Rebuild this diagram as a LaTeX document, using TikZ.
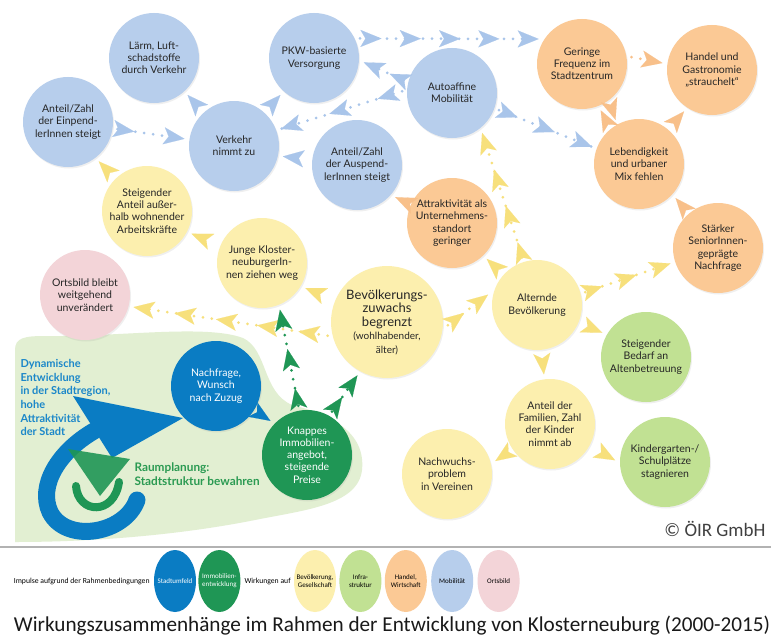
\documentclass[tikz,border=0pt]{standalone}
\usepackage{fontspec}
\setmainfont{Lato}
\newfontfamily\capfont{Carlito}
\usetikzlibrary{arrows.meta, positioning, decorations.markings, shapes.geometric, shadows}
\definecolor{mob}{HTML}{B7CEEC}
\definecolor{mobtip}{HTML}{A9C5EA}
\definecolor{bev}{HTML}{FCEFAE}
\definecolor{bevtip}{HTML}{F7E07C}
\definecolor{han}{HTML}{FBC995}
\definecolor{hantip}{HTML}{F8C08A}
\definecolor{inf}{HTML}{C1E193}
\definecolor{ort}{HTML}{F3D4D8}
\definecolor{stadt}{HTML}{0A7CC3}
\definecolor{immo}{HTML}{1F9655}
\definecolor{blob}{HTML}{E2EFD2}
\definecolor{stadttext}{HTML}{1B87C9}
\definecolor{immotext}{HTML}{2B9A52}
\tikzset{%
	wedge/.tip={Stealth[length=21pt, width=17pt, inset=5pt, line width=0.1pt]},
	topic/.style={circle, minimum size=90pt, inner sep=0pt, outer sep=5pt, align=center,%
		font=\fontsize{10.5}{12.2}\selectfont, text=black!85,%
		drop shadow={opacity=0.12, shadow xshift=1pt, shadow yshift=-1.5pt}},
	tipto/.style={postaction={decorate}, decoration={markings, mark=at position 1 with {\arrow{wedge}}}},
	dotline/.style={draw, line width=3pt, line cap=round, dash pattern=on 0pt off 9pt},
	dotchain/.style 2 args={dotline, postaction={decorate}, decoration={markings,%
		mark=between positions #1 and 0.99 step #2 with {\arrow{wedge}},%
		mark=at position 1 with {\arrow{wedge}}}},
	legend/.style={ellipse, minimum width=42pt, minimum height=62pt, inner xsep=-5pt, inner ysep=0pt,%
		align=center, font=\capfont\fontsize{7}{8}\selectfont},
	legtext/.style={font=\capfont\fontsize{7.7}{10}\selectfont, inner sep=1pt},
	impulse/.style={font=\bfseries\fontsize{11}{13.6}\selectfont, align=left}
}
\begin{document}
\begin{tikzpicture}[x=1pt, y=-1pt, node distance=4pt]
	\coordinate (nw) at (0,0);
	\coordinate (se) at (771,642);
	\fill[white, use as bounding box] (nw) rectangle (se);

	% Impulse
	\fill[blob] (15,350) .. controls (15,338) and (24,336) .. (45,336) .. controls (120,337) and (205,324) .. (243,338) .. controls (268,350) and (262,392) .. (292,405) .. controls (330,414) and (366,432) .. (362,470) .. controls (358,505) and (305,510) .. (255,520) .. controls (185,534) and (100,542) .. (15,542) -- cycle;
	\draw[stadt, line width=17pt, line cap=round] (137,500) .. controls (125,534) and (66,544) .. (50,512) .. controls (38,486) and (58,452) .. (94,431);
	\fill[stadt] (73,396) -- (183,418) -- (112,458) -- cycle;
	\draw[immo, line width=8pt, line cap=round] (76,486) .. controls (78,514) and (114,516) .. (119,482);
	\fill[immo, opacity=0.9] (68,449) -- (130,459) -- (100,496) -- cycle;
	\node[impulse, text=stadttext, anchor=north west] (dyn) at (17,356) {Dynamische\\Entwicklung\\in der Stadtregion,\\hohe\\Attraktivität\\der Stadt};
	\node[impulse, text=immotext, anchor=west, font=\bfseries\fontsize{11.8}{14}\selectfont] (raum) at (131,474) {Raumplanung:\\Stadtstruktur bewahren};

	% Wirkungen
	\node[topic, fill=mob] (laerm) at (154,58) {Lärm, Luft-\\schadstoffe\\durch Verkehr};
	\node[topic, fill=mob] (pkw) at (314,58) {PKW-basierte\\Versorgung};
	\node[topic, fill=mob] (einpendler) at (68,122) {Anteil/Zahl\\der Einpend-\\lerInnen steigt};
	\node[topic, fill=mob] (verkehr) at (234,146) {Verkehr\\nimmt zu};
	\node[topic, fill=mob] (autoaffin) at (452,93) {Autoaffine\\Mobilität};
	\node[topic, fill=mob] (auspendler) at (357,165) {Anteil/Zahl\\der Auspend-\\lerInnen steigt};
	\node[topic, fill=han] (frequenz) at (582,64) {Geringe\\Frequenz im\\Stadtzentrum};
	\node[topic, fill=han] (handel) at (712,70) {Handel und\\Gastronomie\\„strauchelt“};
	\node[topic, fill=han] (lebendig) at (639,164) {Lebendigkeit\\und urbaner\\Mix fehlen};
	\node[topic, fill=han] (senioren) at (718,248) {Stärker\\SeniorInnen-\\geprägte\\Nachfrage};
	\node[topic, fill=han] (standort) at (452,223) {Attraktivität als\\Unternehmens-\\standort\\geringer};
	\node[topic, fill=bev] (altern) at (537,305) {Alternde\\Bevölkerung};
	\node[topic, fill=inf] (altenbetr) at (646,357) {Steigender\\Bedarf an\\Altenbetreuung};
	\node[topic, fill=bev] (familien) at (550,424) {Anteil der\\Familien, Zahl\\der Kinder\\nimmt ab};
	\node[topic, fill=bev] (nachwuchs) at (447,474) {Nachwuchs-\\problem\\in Vereinen};
	\node[topic, fill=inf] (kiga) at (665,462) {Kindergarten-/\\Schulplätze\\stagnieren};
	\node[topic, fill=bev] (arbeitskr) at (147,211) {Steigender\\Anteil außer-\\halb wohnender\\Arbeitskräfte};
	\node[topic, fill=bev] (junge) at (262,263) {Junge Kloster-\\neuburgerIn-\\nen ziehen weg};
	\node[topic, fill=ort] (ortsbild) at (85,295) {Ortsbild bleibt\\weitgehend\\unverändert};
	\node[topic, fill=bev, minimum size=112pt, font=\fontsize{13}{13.5}\selectfont] (zuwachs) at (387,322) {Bevölkerungs-\\zuwachs\\begrenzt\\{\fontsize{10}{13.5}\selectfont(wohlhabender,}\\{\fontsize{10}{13.5}\selectfont älter)}};
	\node[topic, fill=stadt, text=white] (nachfrage) at (216,386) {Nachfrage,\\Wunsch\\nach Zuzug};
	\node[topic, fill=immo, text=white] (knapp) at (307,455) {Knappes\\Immobilien-\\angebot,\\steigende\\Preise};

	\path[tipto, color=mobtip] (verkehr) to (laerm);
	\path[tipto, color=mobtip] (verkehr) to (pkw);
	\path[tipto, color=mobtip] (auspendler) to (verkehr.-12);
	\draw[dotchain={0.25}{0.75}, color=mobtip] (einpendler) to (verkehr);
	\draw[dotchain={0.2}{0.4}, color=mobtip] (autoaffin.178) to (verkehr.20);
	\draw[dotchain={0.35}{0.65}, color=mobtip] (autoaffin.165) to (pkw.-5);
	\draw[dotchain={0.12}{0.22}, color=mobtip] (pkw.23) to (frequenz.150);
	\draw[dotchain={0.2}{0.4}, color=mobtip] (autoaffin.-20) to (lebendig.160);

	\draw[dotline, tipto, color=hantip] (frequenz.8) to (handel.172);
	\path[tipto, color=hantip] (frequenz.-55) to (lebendig.118);
	\path[tipto, color=hantip] (lebendig.128) to (frequenz.-68);
	\path[tipto, color=hantip] (lebendig) to (handel.-124);
	\path[tipto, color=hantip] (senioren) to (lebendig.-43);
	\path[tipto, color=hantip] (standort) to (auspendler.-40);

	\path[tipto, color=bevtip] (arbeitskr) to (einpendler.-52);
	\path[tipto, color=bevtip] (junge) to (arbeitskr.-27);
	\path[tipto, color=bevtip] (zuwachs) to (junge.-30);
	\draw[dotchain={0.15}{0.2125}, color=bevtip] (zuwachs.193) to (ortsbild.-14);
	\draw[dotchain={0.4}{0.6}, color=bevtip] (zuwachs.-3) to (altern.168);
	\path[tipto, color=bevtip] (altern) to (standort.-46);
	\draw[dotchain={0.12}{0.293}, color=bevtip] (altern.107) to (autoaffin.-53);
	\draw[dotchain={0.2}{0.4}, color=bevtip] (altern.15) to (senioren.198);
	\path[tipto, color=bevtip] (altern) to (altenbetr.151);
	\path[tipto, color=bevtip] (altern) to (familien.97);
	\path[tipto, color=bevtip] (familien) to (nachwuchs.15);
	\path[tipto, color=bevtip] (familien) to (kiga.178);

	\draw[dotchain={0.18}{0.41}, color=immo] (knapp.100) to (junge.-69);
	\draw[dotchain={0.4}{0.6}, color=immo] (knapp.60) to (zuwachs.-119);
	\path[tipto, color=stadt] (nachfrage) to (knapp.137);

	\node[anchor=east, font=\capfont\fontsize{19}{22}\selectfont, text=black!75] (copy) at (769,529) {© ÖIR GmbH};

	% Legende
	\coordinate (rule-l) at (0,547);
	\coordinate (rule-r) at (771,547);
	\draw[gray!60, line width=1.2pt] (rule-l) -- (rule-r);
	\node[legend, fill=stadt, text=white] (l-stadt) at (175,581) {Stadtumfeld};
	\node[legend, fill=immo, text=white, right=2pt of l-stadt] (l-immo) {Immobilien-\\entwicklung};
	\node[legend, fill=bev] (l-bev) at (315,581) {Bevölkerung,\\Gesellschaft};
	\node[legtext, left=2pt of l-bev] (l-wirk) {Wirkungen auf};
	\node[legend, fill=inf, right=3pt of l-bev] (l-inf) {Infra-\\struktur};
	\node[legend, fill=han, right=3pt of l-inf] (l-han) {Handel,\\Wirtschaft};
	\node[legend, fill=mob, right=of l-han] (l-mob) {Mobilität};
	\node[legend, fill=ort, right=of l-mob] (l-ort) {Ortsbild};
	\node[legtext, left=3pt of l-stadt] (l-impuls) {Impulse aufgrund der Rahmenbedingungen};

	\node[font=\capfont\fontsize{21.2}{24}\selectfont, text=black!90] (caption) at (392,626) {Wirkungszusammenhänge im Rahmen der Entwicklung von Klosterneuburg (2000-2015)};
\end{tikzpicture}
\end{document}
